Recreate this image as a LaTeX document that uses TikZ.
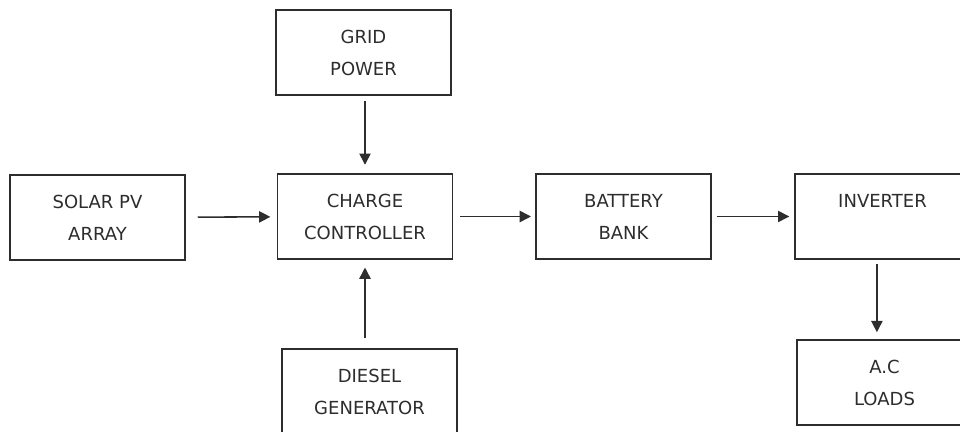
\documentclass[tikz,border=0pt]{standalone}
\usepackage{fontspec}
\setmainfont{DejaVu Sans}
\usepackage{tikz}
\usetikzlibrary{arrows.meta, calc}
\definecolor{figK}{RGB}{45,45,45}
\tikzset{
  block/.style={draw=figK, line width=1.1pt, text=figK, minimum width=4.375cm,
    minimum height=2.125cm, inner sep=0pt, align=center,
    font=\fontsize{12.8}{22.8}\selectfont},
  flow/.style={-{Triangle[length=8pt,width=8pt]}, line width=1.1pt, draw=figK}
}

\begin{document}
\begin{tikzpicture}[x=0.025cm, y=-0.025cm]
\useasboundingbox (0,0) rectangle (960,432);
% ===== main row =====
\node[block] (solar) at (97.5,217.5) {SOLAR PV\\ARRAY};
\node[block] (charge) at (365,216.5) {CHARGE\\CONTROLLER};
\node[block] (battery) at (623.5,216.5) {BATTERY\\BANK};
\node[block] (inverter) at (882.5,216.5) {INVERTER\\\mbox{}};
% ===== sources above / below the controller =====
\node[block] (grid) at (363.5,52.5) {GRID\\POWER};
\node[block] (diesel) at (369.5,391.5) {DIESEL\\GENERATOR};
% ===== load =====
\node[block] (loads) at (884.5,382.5) {A.C\\LOADS};
% arrows between blocks
\draw[flow, shorten <=8.5pt, shorten >=4.5pt] (solar) -- (charge);
\draw[flow, shorten <=5pt, shorten >=3pt] (charge) -- (battery);
\draw[flow, shorten <=3.5pt, shorten >=3.5pt] (battery) -- (inverter);
\draw[flow, shorten <=3.5pt, shorten >=6pt] (grid.south -| charge) -- (charge.north);
\draw[flow, shorten <=7pt, shorten >=5.5pt] (diesel.north -| charge) -- (charge.south);
\draw[flow, shorten <=3pt, shorten >=5pt] ([xshift=-0.14cm]inverter.south) -- ([xshift=-0.14cm]inverter.south |- loads.north);
\end{tikzpicture}
\end{document}
